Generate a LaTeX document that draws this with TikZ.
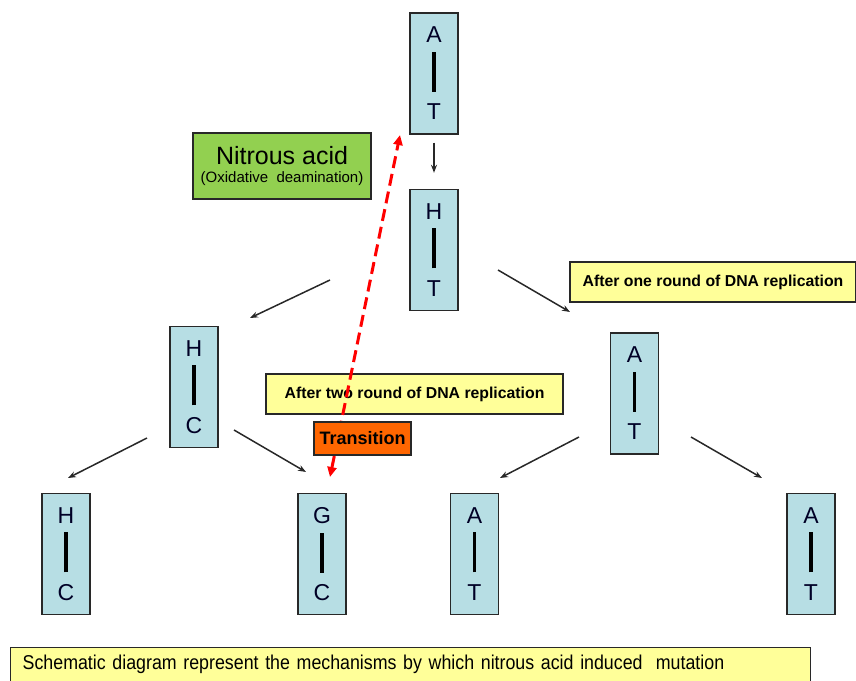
\documentclass[tikz,border=0pt]{standalone}
\usepackage{fontspec}
\setmainfont{Liberation Sans}
\newfontfamily\capfont[FakeStretch=0.89]{Liberation Sans}
\usetikzlibrary{positioning,arrows.meta}
\definecolor{pairblue}{RGB}{183,222,228}
\definecolor{acidgreen}{RGB}{146,208,80}
\definecolor{noteyellow}{RGB}{255,255,153}
\definecolor{transorange}{RGB}{255,102,0}
\definecolor{boxline}{RGB}{40,40,40}
\definecolor{linkgray}{RGB}{40,40,40}

% base pair: letter, bond, letter
\newcommand{\bp}[2]{#1\\[8pt]\textcolor{black}{\rule{3.5pt}{40pt}}\\[6pt]#2}

\begin{document}
\begin{tikzpicture}[
    x=1pt, y=-1pt,
    pairbox/.style={rectangle, draw=boxline, fill=pairblue, line width=1.4pt, minimum width=48pt, minimum height=121pt, inner sep=0pt, align=center, text=black!85!blue, font=\fontsize{23}{22}\selectfont},
    note/.style={rectangle, draw=boxline, fill=noteyellow, line width=1.4pt, minimum height=40pt, inner sep=0pt, font=\fontsize{15.8}{18}\selectfont\bfseries},
    link/.style={-{Stealth[length=8pt,width=6pt]}, line width=1.5pt, draw=linkgray},
    mutation/.style={{Triangle[length=10pt,width=9pt]}-{Triangle[length=10pt,width=9pt]}, red, line width=3pt, dash pattern=on 12pt off 6pt}
]
\useasboundingbox (0,0) rectangle (856,680);

\node[pairbox] (top) at (434,73.5) {\bp{A}{T}};
\node[pairbox] (ht) at (434,250) {\bp{H}{T}};
\node[pairbox] (hc) at (194,387) {\bp{H}{C}};
\node[pairbox] (at) at (634.5,393.5) {\bp{A}{T}};
\node[pairbox] (hc2) at (66,554) {\bp{H}{C}};
\node[pairbox] (gc) at (322,554) {\bp{G}{C}};
\node[pairbox] (at2) at (474.5,554) {\bp{A}{T}};
\node[pairbox] (at3) at (811,554) {\bp{A}{T}};

\node[rectangle, draw=boxline, fill=acidgreen, line width=1.4pt, minimum width=178pt, minimum height=66pt, inner sep=0pt, align=center, font=\fontsize{25}{26}\selectfont] (acid) at (282,166)
    {Nitrous acid\\[-8pt]{\fontsize{15}{16}\selectfont (Oxidative\ \ deamination)}};

\node[note, minimum width=286pt] (one) at (713,282) {After one round of DNA replication};
\node[note, minimum width=297pt] (two) at (414.5,394) {After two round of DNA replication};

% mutation path
\coordinate (mut-s) at (330,477);
\coordinate (mut-e) at (400,135);
\draw[mutation] (mut-s) -- (mut-e);

\node[rectangle, draw=boxline, fill=transorange, line width=1.4pt, minimum width=97pt, minimum height=33pt, inner sep=0pt, font=\fontsize{18}{20}\selectfont\bfseries] (trans) at (362.5,438.5) {Transition};

\node[rectangle, draw=boxline, fill=noteyellow, line width=1.4pt, anchor=north west, minimum width=800pt, minimum height=34pt, text width=776pt, inner xsep=12pt, inner ysep=0pt, align=left, font=\capfont\fontsize{20}{22}\selectfont] (cap) at (10,647)
    {Schematic diagram represent the mechanisms by which nitrous acid induced\ \ mutation};

% replication arrows
\coordinate (l1s) at (330,280); \coordinate (l1e) at (250,318);
\coordinate (r1s) at (498,270); \coordinate (r1e) at (570,312);
\coordinate (l2s) at (147,438); \coordinate (l2e) at (68,478);
\coordinate (r2s) at (234,430); \coordinate (r2e) at (306,472);
\coordinate (l3s) at (579,437); \coordinate (l3e) at (500,478);
\coordinate (r3s) at (691,437); \coordinate (r3e) at (762,478);

\draw[link, shorten <=8pt, shorten >=16pt] (top) -- (ht);
\draw[link] (l1s) -- (l1e);
\draw[link] (r1s) -- (r1e);
\draw[link] (l2s) -- (l2e);
\draw[link] (r2s) -- (r2e);
\draw[link] (l3s) -- (l3e);
\draw[link] (r3s) -- (r3e);

\end{tikzpicture}
\end{document}
